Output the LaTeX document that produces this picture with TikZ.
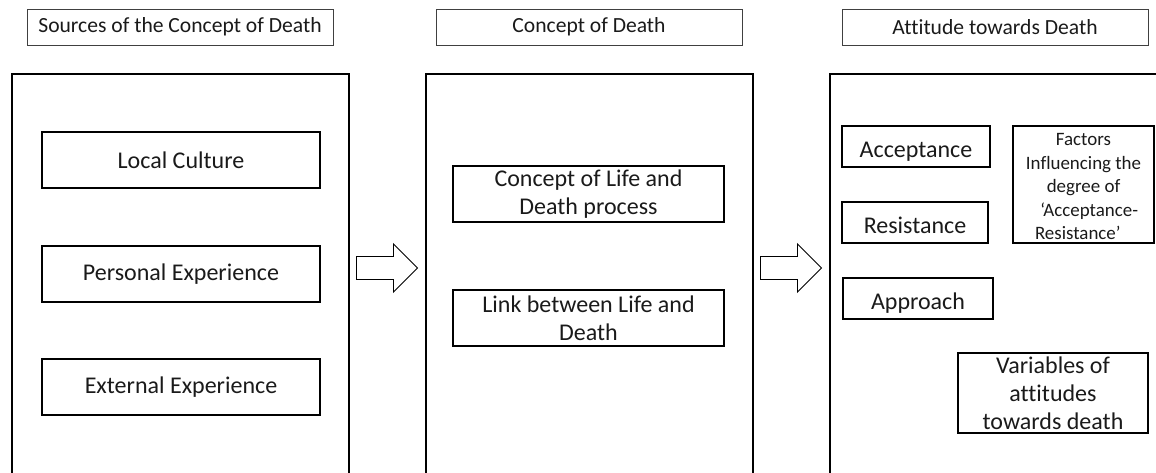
\documentclass[tikz,border=0pt]{standalone}
\usepackage{fontspec}
\setmainfont{Carlito}[Ligatures=NoCommon]
\usetikzlibrary{calc}
\definecolor{txt}{HTML}{1A1A1A}
\begin{document}
\begin{tikzpicture}[x=0.75pt,y=-0.75pt,
  header/.style={draw=black!75,line width=0.6pt,minimum width=229.5pt,minimum height=27pt,inner sep=0pt,
     font=\fontsize{16.2}{19}\selectfont,text=txt},
  panel/.style={draw=black,line width=1.1pt,minimum height=312pt,inner sep=0pt},
  ibox/.style={draw=black,line width=1.1pt,inner sep=0pt,align=center,text=txt,
     font=\fontsize{18}{21}\selectfont},
  rbox/.style={ibox,text height=16.1pt,text depth=0pt},
  blockarrow/.style={draw=black,line width=0.7pt,fill=white,line join=miter}
]
\clip (0,0) rectangle (1156,472);
% headers
\node[header] (h1) at (180,27) {Sources of the Concept of Death};
\node[header] (h2) at (589,27) {Concept of Death};
\node[header] (h3) at (995,27) {Attitude towards Death};
% panels
\node[panel,minimum width=252.75pt] (p1) at (180.5,282) {};
\node[panel,minimum width=245.25pt] (p2) at (589.5,282) {};
\node[panel,minimum width=258.75pt] (p3) at (1002.5,282) {};
% left panel boxes
\node[ibox,minimum width=208.5pt,minimum height=42pt] (lc) at (181,160) {Local Culture};
\node[ibox,minimum width=208.5pt,minimum height=42pt] (pe) at (181,274) {Personal Experience};
\node[ibox,minimum width=208.5pt,minimum height=42pt] (ee) at (181,387) {External Experience};
% middle panel boxes
\node[ibox,minimum width=203.25pt,minimum height=42pt] (cl) at (588.5,194) {Concept of Life and\\Death process};
\node[ibox,minimum width=203.25pt,minimum height=42pt] (lk) at (588.5,318) {Link between Life and\\Death};
% right panel boxes
\node[rbox,minimum width=111pt,minimum height=30.75pt] (ac) at (916,146.5) {Acceptance};
\node[rbox,minimum width=109.5pt,minimum height=30.75pt] (rs) at (915,222.5) {Resistance};
\node[rbox,minimum width=112.5pt,minimum height=30.75pt] (ap) at (918,298.5) {Approach};
\node[ibox,minimum width=105.75pt,minimum height=87.75pt,
  label={[align=center,text=txt,font=\fontsize{14.2}{17.7}\selectfont,yshift=-1.6pt]center:{Factors\\Influencing the\\degree of\\\hspace*{0.6em}‘Acceptance-\\Resistance’\hspace*{0.6em}}}]
  (fi) at (1083.5,184.5) {};
\node[ibox,minimum width=142.5pt,minimum height=60pt] (va) at (1053,393) {Variables of\\attitudes\\towards death};
% block arrows between panels
\coordinate (a1) at ($(p1.east)!0.5!(p2.west)+(0,-14)$);
\coordinate (a2) at ($(p2.east)!0.5!(p3.west)+(0,-14)$);
\foreach \a in {a1,a2}{
  \draw[blockarrow] ($(\a)+(-31,-11.5)$) -- ($(\a)+(6,-11.5)$) -- ($(\a)+(6,-24)$)
    -- ($(\a)+(30,0)$) -- ($(\a)+(6,24)$) -- ($(\a)+(6,11.5)$) -- ($(\a)+(-31,11.5)$) -- cycle;
}
\end{tikzpicture}
\end{document}
